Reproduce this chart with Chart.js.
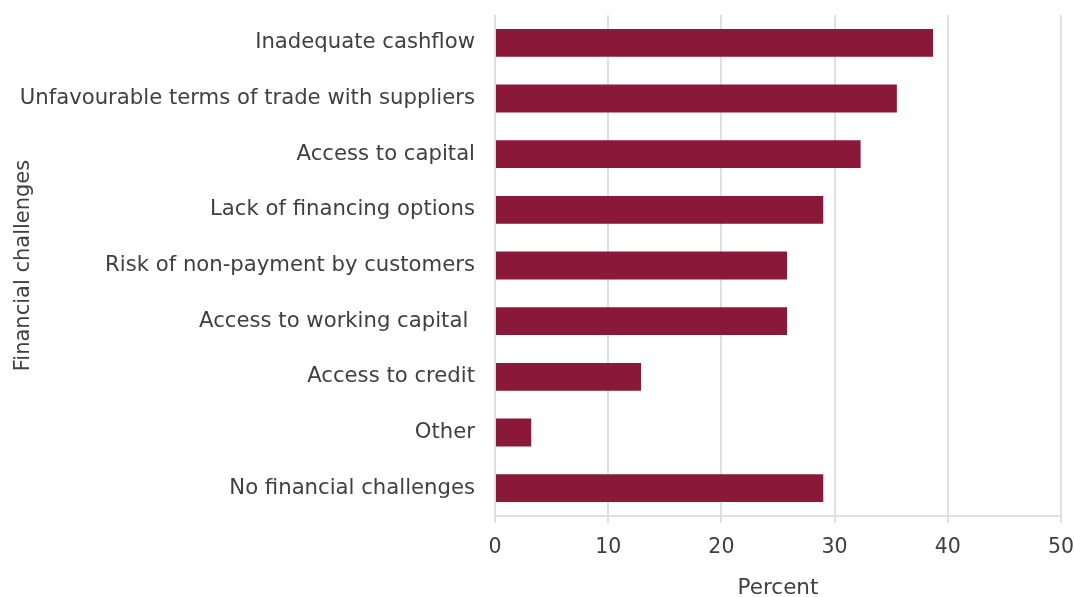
<!DOCTYPE html>
<html>
<head>
<meta charset="utf-8">
<script src="https://cdn.jsdelivr.net/npm/chart.js@4/dist/chart.umd.min.js"></script>
<style>
  html, body { margin: 0; padding: 0; background: #ffffff; }
  #wrap { width: 1074px; height: 597px; }
</style>
</head>
<body>
<div id="wrap"><canvas id="chart" width="1074" height="597"></canvas></div>
<script>
// Share of businesses reporting each financial challenge (percent)
const categories = [
  'Inadequate cashflow',
  'Unfavourable terms of trade with suppliers',
  'Access to capital',
  'Lack of financing options',
  'Risk of non-payment by customers',
  'Access to working capital ',
  'Access to credit',
  'Other',
  'No financial challenges'
];
const percentValues = [38.7, 35.5, 32.3, 29.0, 25.8, 25.8, 12.9, 3.2, 29.0];
const xTickValues = [0, 10, 20, 30, 40, 50];

const FONT = "'DejaVu Sans', 'Noto Sans', sans-serif";
const TEXT = '#404040';
const GRID = '#e0e0e0';

new Chart(document.getElementById('chart'), {
  type: 'bar',
  data: {
    labels: categories,
    datasets: [{
      label: 'Percent',
      data: percentValues,
      backgroundColor: '#8a1838',
      borderWidth: 0,
      barPercentage: 0.5,
      categoryPercentage: 1.0
    }]
  },
  options: {
    indexAxis: 'y',
    responsive: false,
    animation: false,
    layout: { padding: { top: 15, right: 12, bottom: 0, left: 11 } },
    plugins: {
      legend: { display: false },
      tooltip: { enabled: false }
    },
    scales: {
      x: {
        min: 0,
        max: 50,
        afterBuildTicks: (scale) => {
          scale.ticks = xTickValues.map(v => ({ value: v }));
        },
        afterFit: (scale) => { scale.height = 81; },
        grid: {
          color: GRID,
          lineWidth: 2,
          drawTicks: true,
          tickLength: 7
        },
        border: { color: GRID, width: 2 },
        ticks: {
          color: TEXT,
          // tall line box pushes the tick text down without extra side padding
          font: { family: FONT, size: 20.5, lineHeight: 2.4 },
          padding: 0,
          maxRotation: 0
        },
        title: {
          display: true,
          text: 'Percent',
          color: TEXT,
          font: { family: FONT, size: 21.5, lineHeight: 0.8 },
          padding: { top: 0, bottom: 0 }
        }
      },
      y: {
        afterFit: (scale) => { scale.width = 484; },
        // invisible tick marks give the gap between labels and bars
        grid: { display: false, drawTicks: true, tickLength: 20 },
        border: { display: false },
        ticks: {
          color: TEXT,
          font: { family: FONT, size: 21.2 },
          padding: 0,
          autoSkip: false
        },
        title: {
          display: true,
          text: 'Financial challenges',
          color: TEXT,
          font: { family: FONT, size: 21 },
          padding: { top: 0, bottom: 0 }
        }
      }
    }
  }
});
</script>
</body>
</html>
